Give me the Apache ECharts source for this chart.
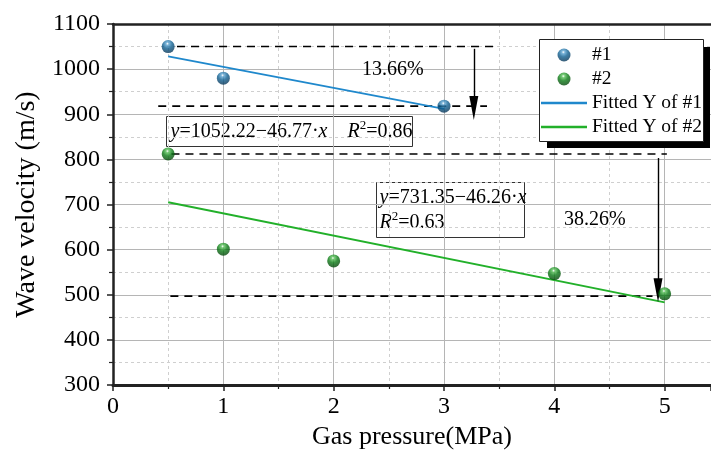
<!DOCTYPE html>
<html>
<head>
<meta charset="utf-8">
<script src="https://cdn.jsdelivr.net/npm/echarts@6/dist/echarts.min.js"></script>
<style>
  html, body { margin: 0; padding: 0; background: #fff; }
  #chart { width: 711px; height: 453px; }
</style>
</head>
<body>
<div id="chart"></div>
<script>
// measured points
const x1 = [0.5, 1, 3];
const y1 = [1050, 980, 918];
const x2 = [0.5, 1, 2, 4, 5];
const y2 = [812, 601, 575, 547, 502];

// fitted lines (end points)
const fit1X = [0.5, 3];
const fit1Y = [1028, 912];
const fit2X = [0.5, 5];
const fit2Y = [705, 483];

// dashed reference lines: [xStart, xEnd, y]
const refLines = [
  [0.58, 3.46, 1050],
  [0.41, 3.39, 918],
  [0.53, 5.02, 812],
  [0.52, 4.89, 497],
];
// arrows: [x, yFrom, yTo]
const arrows = [
  [3.27, 1045, 914],
  [4.94, 803, 510],
];

const xTicks = [0, 1, 2, 3, 4, 5];
const yMin = 300, yMax = 1100;

const FONT = "Liberation Serif";
const chart = echarts.init(document.getElementById("chart"));

const sphere = (mid, base, dark) => ({
  type: "radial", x: 0.45, y: 0.28, r: 0.8,
  colorStops: [
    { offset: 0, color: "#ffffff" },
    { offset: 0.15, color: mid },
    { offset: 0.45, color: base },
    { offset: 1, color: dark },
  ],
});

const pair = (xs, ys) => xs.map((x, i) => [x, ys[i]]);

const dashedSeries = refLines.map((r) => ({
  type: "line",
  data: [[r[0], r[2]], [r[1], r[2]]],
  showSymbol: false,
  silent: true,
  lineStyle: { color: "#000", width: 1.6, type: [8, 6] },
  z: 3,
}));

const arrowSeries = {
  type: "line",
  data: [],
  silent: true,
  markLine: {
    silent: true,
    symbol: ["none", "triangle"],
    symbolSize: [9, 24],
    label: { show: false },
    lineStyle: { color: "#000", width: 1.4, type: "solid" },
    data: arrows.map((a) => [
      { coord: [a[0], a[1]] },
      { coord: [a[0], a[2]] },
    ]),
  },
};

const option = {
  animation: false,
  grid: { left: 113, top: 24, right: 0, bottom: 68, outerBoundsMode: "none", containLabel: false },
  xAxis: [
    {
      type: "value",
      min: 0,
      max: 5.42,
      interval: 1,
      name: "Gas pressure(MPa)",
      nameLocation: "middle",
      nameGap: 39,
      nameTextStyle: { fontFamily: FONT, fontSize: 26, color: "#000" },
      axisLine: { lineStyle: { color: "#222", width: 3 } },
      axisTick: { inside: false, length: 6, lineStyle: { color: "#222", width: 1.5 } },
      minorTick: { show: true, splitNumber: 2, length: 4, lineStyle: { color: "#222", width: 1.2 } },
      axisLabel: {
        fontFamily: FONT, fontSize: 24, color: "#000", margin: 10,
        showMaxLabel: false,
        formatter: (v) => (xTicks.includes(v) ? String(v) : ""),
      },
      splitLine: { show: true, lineStyle: { color: "#b5b5b5", width: 1 } },
      minorSplitLine: { show: true, lineStyle: { color: "#cfcfcf", width: 1, type: [3, 3] } },
    },
    {
      type: "value",
      position: "top",
      min: 0,
      max: 5.42,
      axisLine: { show: true, onZero: false, lineStyle: { color: "#222", width: 2.5 } },
      axisTick: { show: false },
      axisLabel: { show: false },
      splitLine: { show: false },
    },
  ],
  yAxis: {
    type: "value",
    min: yMin,
    max: yMax,
    interval: 100,
    name: "Wave velocity (m/s)",
    nameLocation: "middle",
    nameGap: 70,
    nameTextStyle: { fontFamily: FONT, fontSize: 28, color: "#000" },
    axisLine: { show: true, lineStyle: { color: "#222", width: 2.5 } },
    axisTick: { show: true, length: 6, lineStyle: { color: "#222", width: 1.5 } },
    minorTick: { show: true, splitNumber: 2, length: 4, lineStyle: { color: "#222", width: 1.2 } },
    axisLabel: { fontFamily: FONT, fontSize: 24, color: "#000", margin: 13, formatter: (v) => String(v) },
    splitLine: { show: true, lineStyle: { color: "#b5b5b5", width: 1 } },
    minorSplitLine: { show: true, lineStyle: { color: "#cfcfcf", width: 1, type: [3, 3] } },
  },
  legend: {
    orient: "vertical",
    left: 541,
    top: 45,
    padding: 0,
    itemGap: 4,
    itemWidth: 46,
    itemHeight: 13,
    textStyle: { fontFamily: FONT, fontSize: 19.5, color: "#000" },
    data: [
      { name: "#1" },
      { name: "#2" },
      { name: "Fitted Y of #1", icon: "path://M0,0 L100,0 L100,5 L0,5 Z" },
      { name: "Fitted Y of #2", icon: "path://M0,0 L100,0 L100,5 L0,5 Z" },
    ],
    z: 12,
  },
  series: [
    ...dashedSeries,
    arrowSeries,
    {
      name: "Fitted Y of #1",
      type: "line",
      data: pair(fit1X, fit1Y),
      showSymbol: false,
      lineStyle: { color: "#1f88cc", width: 1.8 },
      itemStyle: { color: "#1f88cc" },
      z: 4,
    },
    {
      name: "Fitted Y of #2",
      type: "line",
      data: pair(fit2X, fit2Y),
      showSymbol: false,
      lineStyle: { color: "#22b02a", width: 1.8 },
      itemStyle: { color: "#22b02a" },
      z: 4,
    },
    {
      name: "#1",
      type: "scatter",
      data: pair(x1, y1),
      symbolSize: 13,
      itemStyle: { color: sphere("#5aa2d0", "#0f5f90", "#062c4a") },
      z: 5,
    },
    {
      name: "#2",
      type: "scatter",
      data: pair(x2, y2),
      symbolSize: 13,
      itemStyle: { color: sphere("#58c058", "#0a7a14", "#033a08") },
      z: 5,
    },
  ],
  graphic: [
    // legend frame with its drop shadow
    { type: "rect", left: 547, top: 47, z: 8,
      shape: { width: 163, height: 101 }, style: { fill: "#000" } },
    { type: "rect", left: 539, top: 39, z: 9,
      shape: { width: 164, height: 102 }, style: { fill: "#fff", stroke: "#222", lineWidth: 1 } },
    {
      type: "group",
      left: 166,
      top: 116,
      z: 10,
      children: [
        { type: "rect", shape: { x: 0, y: 0, width: 246, height: 30 },
          style: { fill: "#fff", stroke: "#333", lineWidth: 1 } },
        { type: "text", x: 4, y: 3,
          style: {
            text: "{i|y}=1052.22\u221246.77\u00b7{i|x}    {i|R}{s|2}=0.86",
            fontFamily: FONT, fontSize: 20, fill: "#000",
            rich: {
              i: { fontFamily: FONT, fontStyle: "italic", fontSize: 20 },
              s: { fontFamily: FONT, fontSize: 13, verticalAlign: "top", padding: [0, 0, 12, 0] },
            },
          } },
      ],
    },
    {
      type: "group",
      left: 376,
      top: 182,
      z: 10,
      children: [
        { type: "rect", shape: { x: 0, y: 0, width: 148, height: 55 },
          style: { fill: "#fff", stroke: "#333", lineWidth: 1 } },
        { type: "text", x: 3, y: 3,
          style: {
            text: "{i|y}=731.35\u221246.26\u00b7{i|x}\n{i|R}{s|2}=0.63",
            fontFamily: FONT, fontSize: 20, fill: "#000", lineHeight: 25,
            rich: {
              i: { fontFamily: FONT, fontStyle: "italic", fontSize: 20, lineHeight: 25 },
              s: { fontFamily: FONT, fontSize: 13, verticalAlign: "top", padding: [0, 0, 12, 0] },
            },
          } },
      ],
    },
    { type: "text", left: 362, top: 60, z: 10,
      style: { text: "13.66%", fontFamily: FONT, fontSize: 20, fill: "#000" } },
    { type: "text", left: 564, top: 210, z: 10,
      style: { text: "38.26%", fontFamily: FONT, fontSize: 20, fill: "#000" } },
  ],
};

chart.setOption(option);
</script>
</body>
</html>
